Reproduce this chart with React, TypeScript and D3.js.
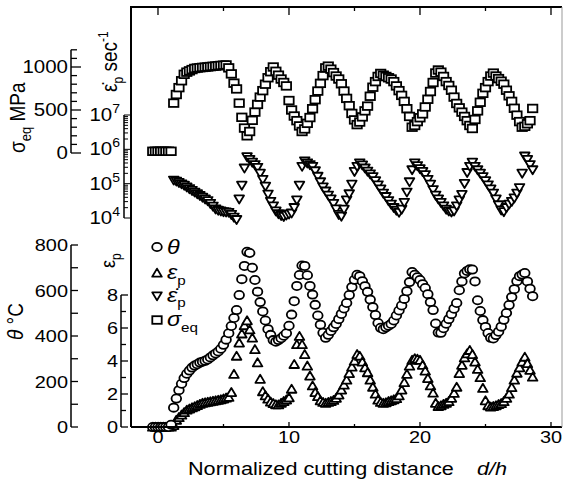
import React from 'react';
import * as d3 from 'd3';

// Normalized cutting distance d/h (sample positions)
const dist = [
  -0.4, -0.2, 0, 0.2, 0.4, 0.6, 0.8, 1.0, 1.2, 1.4,
  1.6, 1.8, 2.0, 2.2, 2.4, 2.6, 2.8, 3.0, 3.2, 3.4,
  3.6, 3.8, 4.0, 4.2, 4.4, 4.6, 4.8, 5.0, 5.2, 5.4,
  5.6, 5.8, 6.0, 6.2, 6.4, 6.6, 6.8, 7.0, 7.2, 7.4,
  7.6, 7.8, 8.0, 8.2, 8.4, 8.6, 8.8, 9.0, 9.2, 9.4,
  9.6, 9.8, 10.0, 10.2, 10.4, 10.6, 10.8, 11.0, 11.2, 11.4,
  11.6, 11.8, 12.0, 12.2, 12.4, 12.6, 12.8, 13.0, 13.2, 13.4,
  13.6, 13.8, 14.0, 14.2, 14.4, 14.6, 14.8, 15.0, 15.2, 15.4,
  15.6, 15.8, 16.0, 16.2, 16.4, 16.6, 16.8, 17.0, 17.2, 17.4,
  17.6, 17.8, 18.0, 18.2, 18.4, 18.6, 18.8, 19.0, 19.2, 19.4,
  19.6, 19.8, 20.0, 20.2, 20.4, 20.6, 20.8, 21.0, 21.2, 21.4,
  21.6, 21.8, 22.0, 22.2, 22.4, 22.6, 22.8, 23.0, 23.2, 23.4,
  23.6, 23.8, 24.0, 24.2, 24.4, 24.6, 24.8, 25.0, 25.2, 25.4,
  25.6, 25.8, 26.0, 26.2, 26.4, 26.6, 26.8, 27.0, 27.2, 27.4,
  27.6, 27.8, 28.0, 28.2, 28.4, 28.6,
];

// Temperature theta (deg C)
const theta = [
  0, 0, 0, 0, 0, 0, 0, 10, 85, 125,
  162, 190, 215, 234, 248, 261, 270, 276, 283, 287,
  291, 297, 306, 315, 323, 332, 344, 361, 384, 412,
  444, 479, 514, 580, 650, 708, 770, 765, 700, 646,
  595, 549, 508, 468, 430, 405, 382, 375, 382, 390,
  401, 412, 445, 494, 553, 620, 668, 710, 708, 667,
  620, 582, 537, 490, 450, 414, 392, 405, 422, 438,
  453, 474, 497, 521, 545, 580, 615, 647, 669, 663,
  641, 619, 594, 560, 527, 492, 457, 436, 430, 438,
  445, 453, 468, 490, 512, 534, 563, 597, 637, 681,
  669, 658, 646, 628, 611, 584, 549, 514, 455, 415,
  414, 434, 454, 474, 496, 520, 545, 601, 640, 675,
  686, 693, 692, 640, 557, 510, 470, 440, 413, 392,
  389, 404, 419, 441, 471, 501, 536, 571, 606, 641,
  663, 670, 677, 640, 608, 575,
];

// Plastic strain epsilon_p
const strain = [
  0, 0, 0, 0, 0, 0, 0, 0, 0.1, 0.42,
  0.58, 0.73, 0.88, 1.03, 1.1, 1.17, 1.24, 1.31, 1.38, 1.45,
  1.48, 1.51, 1.54, 1.57, 1.6, 1.63, 1.66, 1.71, 1.76, 1.81,
  2.1, 3.2, 4.3, 5.1, 5.65, 6.15, 6.45, 5.9, 5.4, 4.7,
  3.9, 2.9, 2.15, 1.9, 1.7, 1.52, 1.43, 1.36, 1.35, 1.45,
  1.55, 1.65, 1.78, 2.3, 3.8, 5.0, 5.5, 5.0, 4.4, 3.7,
  3.1, 2.5, 2.1, 1.85, 1.6, 1.5, 1.45, 1.5, 1.55, 1.62,
  1.75, 1.95, 2.25, 2.55, 2.85, 3.25, 3.64, 4.0, 4.4, 4.3,
  3.95, 3.6, 3.3, 2.85, 2.42, 2.0, 1.64, 1.5, 1.45, 1.48,
  1.55, 1.6, 1.66, 1.73, 1.9, 2.25, 2.7, 3.2, 3.7, 4.05,
  4.15, 4.12, 4.05, 3.75, 3.4, 2.95, 2.5, 2.06, 1.45, 1.25,
  1.3, 1.38, 1.45, 1.55, 1.75, 2.05, 2.42, 3.25, 3.75, 4.2,
  4.45, 4.65, 4.4, 3.95, 3.5, 3.0, 2.35, 1.6, 1.3, 1.22,
  1.25, 1.3, 1.37, 1.43, 1.55, 1.75, 2.0, 2.4, 2.85, 3.27,
  3.6, 3.95, 4.24, 3.85, 3.45, 3.03,
];

// Equivalent stress sigma_eq (MPa)
const sigma = [
  20, 20, 20, 20, 20, 20, 20, 20, 580, 680,
  760, 840, 915, 940, 955, 970, 983, 988, 992, 995,
  998, 1001, 1005, 1008, 1011, 1015, 1018, 1021, 1024, 990,
  920, 812, 745, 580, 415, 290, 200, 250, 380, 476,
  565, 650, 725, 800, 875, 945, 1000, 950, 905, 860,
  820, 780, 610, 500, 430, 376, 315, 250, 280, 345,
  412, 515, 620, 720, 810, 900, 990, 1010, 975, 935,
  895, 860, 805, 720, 635, 550, 460, 385, 330, 360,
  420, 490, 545, 660, 765, 830, 890, 925, 905, 890,
  875, 860, 830, 780, 725, 670, 600, 515, 425, 300,
  320, 365, 410, 455, 535, 625, 715, 820, 930, 965,
  940, 890, 830, 785, 730, 650, 576, 525, 475, 425,
  376, 320, 285, 390, 490, 590, 694, 760, 830, 895,
  929, 895, 865, 835, 800, 730, 665, 600, 520, 440,
  365, 300, 310, 340, 376, 518,
];

// Strain rate, given as log10 of epsilon-dot_p (1/s)
const rateExp = [
  null, null, null, null, null, null, null, null, 5.10, 5.07,
  5.03, 4.99, 4.95, 4.90, 4.85, 4.80, 4.75, 4.70, 4.65, 4.60,
  4.55, 4.50, 4.42, 4.34, 4.26, 4.22, 4.20, 4.18, 4.17, 4.16,
  4.10, 4.02, 3.95, 4.55, 4.95, 5.45, 5.78, 5.70, 5.62, 5.55,
  5.47, 5.30, 5.12, 4.92, 4.69, 4.48, 4.35, 4.20, 4.12, 4.07,
  4.04, 4.08, 4.11, 4.14, 4.30, 4.52, 4.95, 5.50, 5.66, 5.60,
  5.55, 5.50, 5.37, 5.21, 5.05, 4.90, 4.78, 4.66, 4.55, 4.42,
  4.26, 4.10, 4.05, 4.25, 4.52, 4.70, 4.98, 5.35, 5.50, 5.60,
  5.54, 5.45, 5.36, 5.28, 5.20, 5.08, 4.96, 4.84, 4.72, 4.62,
  4.50, 4.40, 4.30, 4.22, 4.16, 4.25, 4.45, 4.75, 5.05, 5.40,
  5.60, 5.52, 5.43, 5.35, 5.26, 5.12, 4.98, 4.82, 4.66, 4.55,
  4.45, 4.35, 4.25, 4.20, 4.17, 4.20, 4.35, 4.52, 4.68, 5.00,
  5.32, 5.50, 5.62, 5.50, 5.40, 5.30, 5.20, 5.08, 4.96, 4.84,
  4.72, 4.55, 4.38, 4.23, 4.18, 4.30, 4.40, 4.48, 4.58, 4.72,
  4.88, 5.30, 5.80, 5.70, 5.55, 5.40,
];

const xTicks = [0, 5, 10, 15, 20, 25, 30];
const xLabels = [0, 10, 20, 30];
const thetaTicks = [0, 100, 200, 300, 400, 500, 600, 700, 800];
const thetaLabels = [0, 200, 400, 600, 800];
const strainTicks = [0, 1, 2, 3, 4, 5, 6, 7, 8];
const strainLabels = [0, 2, 4, 6, 8];
const sigmaTicks = [0, 100, 200, 300, 400, 500, 600, 700, 800, 900, 1000, 1100, 1200];
const sigmaLabels = [0, 500, 1000];
const rateDecades = [4, 5, 6, 7];

const FONT = "'Liberation Sans', Arial, Helvetica, sans-serif";
const SX = 1.17; // horizontal stretch of the lettering

const T = ({ x, y, anchor = 'start', size = 17, rot = false, italic = false, children }: any) => (
  <text
    transform={`translate(${x},${y}) scale(${SX},1)${rot ? ' rotate(-90)' : ''}`}
    textAnchor={anchor}
    fontSize={size}
    fontStyle={italic ? 'italic' : 'normal'}
    fontFamily={FONT}
    fill="#000"
  >
    {children}
  </text>
);

const SW = 1.8;
const Circle = ({ cx, cy }: any) => (
  <ellipse cx={cx} cy={cy} rx={4.8} ry={4.1} fill="#fff" stroke="#000" strokeWidth={SW} />
);
const TriUp = ({ cx, cy }: any) => (
  <path d={`M${cx},${cy - 4.4}L${cx + 4.8},${cy + 3.7}L${cx - 4.8},${cy + 3.7}Z`} fill="#fff" stroke="#000" strokeWidth={SW} strokeLinejoin="round" />
);
const TriDown = ({ cx, cy }: any) => (
  <path d={`M${cx},${cy + 4.4}L${cx + 4.8},${cy - 3.7}L${cx - 4.8},${cy - 3.7}Z`} fill="#fff" stroke="#000" strokeWidth={SW} strokeLinejoin="round" />
);
const Square = ({ cx, cy }: any) => (
  <rect x={cx - 4.7} y={cy - 3.8} width={9.4} height={7.6} fill="#fff" stroke="#000" strokeWidth={SW} />
);

export default function App() {
  const x = d3.scaleLinear().domain([-2.06, 30.84]).range([131, 562]);
  const thetaY = d3.scaleLinear().domain([0, 800]).range([427, 245]);
  const strainY = d3.scaleLinear().domain([0, 8]).range([427, 295]);
  const sigmaY = d3.scaleLinear().domain([0, 1200]).range([153, 49.8]);
  const rateY = d3.scaleLog().domain([1e4, 1e7]).range([218, 115]);
  const rateTicks = rateY.ticks();

  const frame = { l: 131, t: 7, r: 562, b: 427 };

  return (
    <svg width={563} height={483} style={{ position: 'absolute', left: 0, top: 0, background: '#fff' }}>
      <rect x={0} y={0} width={563} height={483} fill="#fff" />

      {/* data: stress (squares) */}
      {dist.map((d, i) => (
        <Square key={'s' + i} cx={x(d)} cy={sigmaY(sigma[i])} />
      ))}
      {/* data: strain rate (down triangles) */}
      {dist.map((d, i) =>
        rateExp[i] == null ? null : <TriDown key={'r' + i} cx={x(d)} cy={rateY(Math.pow(10, rateExp[i] as number))} />
      )}
      {/* data: strain (up triangles) */}
      {dist.map((d, i) => (
        <TriUp key={'e' + i} cx={x(d)} cy={strainY(strain[i])} />
      ))}
      {/* data: temperature (circles) */}
      {dist.map((d, i) => (
        <Circle key={'t' + i} cx={x(d)} cy={thetaY(theta[i])} />
      ))}

      {/* frame */}
      <path d={`M${frame.l},${frame.b}L${frame.l},${frame.t}L${frame.r},${frame.t}`} fill="none" stroke="#000" strokeWidth={2} />
      <line x1={frame.l} x2={frame.r} y1={frame.b} y2={frame.b} stroke="#000" strokeWidth={2} />
      <line x1={frame.r} x2={frame.r} y1={frame.t} y2={frame.b} stroke="#999" strokeWidth={1} />

      {/* x ticks */}
      {xTicks.map((v) => {
        const major = v % 10 === 0;
        return (
          <g key={'xt' + v}>
            <line x1={x(v)} x2={x(v)} y1={frame.b} y2={frame.b - (major ? 5 : 3)} stroke="#000" strokeWidth={1.3} />
            <line x1={x(v)} x2={x(v)} y1={frame.t} y2={frame.t + (major ? 8 : 4)} stroke="#000" strokeWidth={1.3} />
          </g>
        );
      })}
      {xLabels.map((v) => (
        <T key={'xl' + v} x={x(v)} y={443} anchor="middle">{v}</T>
      ))}
      <T x={188} y={475} size={18.5}>Normalized cutting distance</T>
      <T x={477} y={475} size={18.5} italic>d/h</T>

      {/* theta axis */}
      <line x1={71} x2={71} y1={thetaY(800)} y2={thetaY(0)} stroke="#000" strokeWidth={1.5} />
      {thetaTicks.map((v) => (
        <line key={'tt' + v} x1={71} x2={78} y1={thetaY(v)} y2={thetaY(v)} stroke="#000" strokeWidth={1.3} />
      ))}
      {thetaLabels.map((v) => (
        <T key={'tl' + v} x={68} y={thetaY(v) + 6} anchor="end">{v}</T>
      ))}
      <T x={23} y={340} size={19} rot>
        <tspan fontStyle="italic">θ</tspan> °C
      </T>

      {/* strain axis */}
      <line x1={121} x2={121} y1={strainY(8)} y2={strainY(0)} stroke="#000" strokeWidth={1.5} />
      {strainTicks.map((v) => (
        <line key={'et' + v} x1={121} x2={v % 2 === 0 ? 128 : 126} y1={strainY(v)} y2={strainY(v)} stroke="#000" strokeWidth={1.3} />
      ))}
      {strainLabels.map((v) => (
        <T key={'el' + v} x={118} y={strainY(v) + 6} anchor="end">{v}</T>
      ))}
      <T x={115} y={268} size={18} rot>
        ε<tspan dy={5} fontSize={12}>p</tspan>
      </T>

      {/* sigma axis */}
      <line x1={71} x2={71} y1={sigmaY(1200)} y2={sigmaY(0)} stroke="#000" strokeWidth={1.5} />
      {sigmaTicks.map((v) => (
        <line key={'st' + v} x1={71} x2={v % 500 === 0 ? 81 : 77} y1={sigmaY(v)} y2={sigmaY(v)} stroke="#000" strokeWidth={1.3} />
      ))}
      {sigmaLabels.map((v) => (
        <T key={'sl' + v} x={68} y={sigmaY(v) + 6} anchor="end" size={17.5}>{v}</T>
      ))}
      <T x={25} y={153} size={19} rot>
        σ<tspan dy={5} fontSize={13}>eq</tspan><tspan dy={-5}> MPa</tspan>
      </T>

      {/* strain-rate axis (log) */}
      <line x1={124} x2={124} y1={rateY(1e7)} y2={rateY(1e4)} stroke="#000" strokeWidth={1.5} />
      {rateTicks.map((v, i) => {
        const major = Math.abs(Math.log10(v) - Math.round(Math.log10(v))) < 1e-6;
        return (
          <line key={'rt' + i} x1={124} x2={major ? 130 : 128} y1={rateY(v)} y2={rateY(v)} stroke="#000" strokeWidth={1} />
        );
      })}
      {rateDecades.map((e) => (
        <T key={'rl' + e} x={120} y={rateY(Math.pow(10, e)) + 6} anchor="end" size={17.5}>
          10<tspan dy={-8} fontSize={12}>{e}</tspan>
        </T>
      ))}
      <T x={117} y={92} size={19} rot>
        {'ε\u0307'}<tspan dy={5} fontSize={12}>p</tspan><tspan dy={-5}> sec</tspan><tspan dy={-8} fontSize={12}>-1</tspan>
      </T>

      {/* legend */}
      <Circle cx={157} cy={247} />
      <T x={167} y={254} size={20} italic>θ</T>
      <TriUp cx={157} cy={273} />
      <T x={167} y={279} size={20} italic>ε<tspan dy={6} fontSize={13} fontStyle="normal">p</tspan></T>
      <TriDown cx={157} cy={296} />
      <T x={167} y={302} size={20} italic>{'ε\u0307'}<tspan dy={5} fontSize={13} fontStyle="normal">p</tspan></T>
      <Square cx={157} cy={320} />
      <T x={167} y={326} size={20} italic>σ<tspan dy={6} fontSize={13} fontStyle="normal">eq</tspan></T>
    </svg>
  );
}
